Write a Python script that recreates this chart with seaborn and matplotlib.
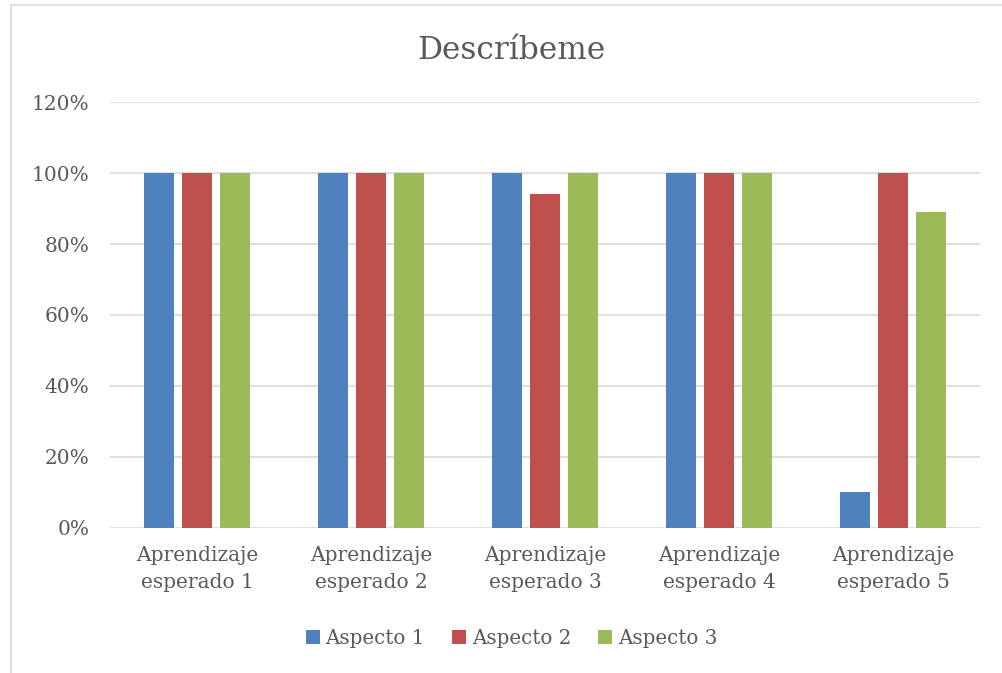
import pandas as pd
import matplotlib.pyplot as plt
import seaborn as sns
from matplotlib.patches import Rectangle
from matplotlib.ticker import PercentFormatter

# datos
aprendizajes = ["Aprendizaje\nesperado 1", "Aprendizaje\nesperado 2", "Aprendizaje\nesperado 3",
                "Aprendizaje\nesperado 4", "Aprendizaje\nesperado 5"]
aspectos = ["Aspecto 1", "Aspecto 2", "Aspecto 3"]
aspecto1 = [100, 100, 100, 100, 10]
aspecto2 = [100, 100, 94, 100, 100]
aspecto3 = [100, 100, 100, 100, 89]
colores = ["#4F81BD", "#C0504D", "#9BBB59"]

df = pd.DataFrame({
    "Aprendizaje": aprendizajes * 3,
    "Aspecto": [a for a in aspectos for _ in aprendizajes],
    "Valor": aspecto1 + aspecto2 + aspecto3,
})

sns.set_style("white")
plt.rcParams['font.family'] = ['DejaVu Serif']
gris = "#595959"

fig = plt.figure(figsize=(10.03, 6.73), dpi=100)
ax = fig.add_axes([0.1097, 0.2155, 0.8673, 0.6329])

sns.barplot(data=df, x="Aprendizaje", y="Valor", hue="Aspecto", palette=colores,
            width=0.655, gap=0.21, ax=ax, saturation=1, legend=True, linewidth=0)

ax.set_ylim(0, 120)
ax.set_xlim(-0.5, 4.5)
ax.set_yticks(range(0, 121, 20))
ax.yaxis.set_major_formatter(PercentFormatter(decimals=0))
ax.grid(axis="y", color="#D9D9D9", linewidth=1.2)
ax.set_axisbelow(True)
for s in ax.spines.values():
    s.set_visible(False)
ax.tick_params(axis="both", length=0, labelsize=14.5, labelcolor=gris)
ax.tick_params(axis="y", pad=15)
ax.tick_params(axis="x", pad=13)
for t in ax.get_xticklabels():
    t.set_linespacing(1.5)
ax.set_xlabel("")
ax.set_ylabel("")

fig.text(0.510, 0.925, "Descríbeme", ha="center", va="center", fontsize=22.5, color=gris)

h, l = ax.get_legend_handles_labels()
ax.legend(h, l, loc="center", bbox_to_anchor=(0.51, 0.052), bbox_transform=fig.transFigure,
          ncol=3, frameon=False, fontsize=14.3, labelcolor=gris, handlelength=0.7, handleheight=0.7,
          handletextpad=0.3, columnspacing=1.36)

fig.patches.append(Rectangle((11 / 1003, -0.05), 1.2, 1 - 5 / 673 + 0.05, transform=fig.transFigure,
                             fill=False, edgecolor="#D9D9D9", linewidth=1.2))

fig.savefig("out.png", dpi=100)
